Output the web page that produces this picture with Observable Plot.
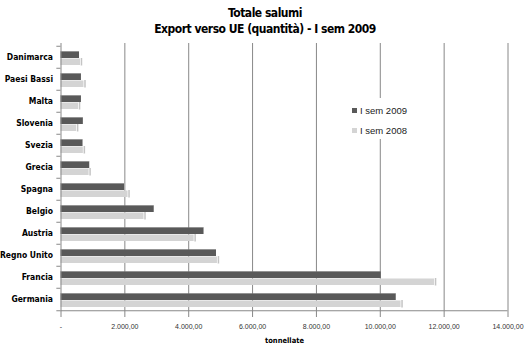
<!DOCTYPE html>
<html><head><meta charset="utf-8">
<script src="https://cdn.jsdelivr.net/npm/d3@7"></script>
<script src="https://cdn.jsdelivr.net/npm/@observablehq/plot@0.6"></script>
<style>
body{margin:0;background:#fff;width:530px;height:352px;overflow:hidden;position:relative;font-family:"DejaVu Sans",sans-serif;font-stretch:condensed;}
#title{height:36px;text-align:center;font-weight:bold;font-size:12px;line-height:16px;padding-top:5px;box-sizing:border-box;color:#000;font-stretch:condensed;letter-spacing:-0.5px;}
#legend{position:absolute;left:340px;top:98px;width:82px;height:41px;background:#fff;font-family:"Liberation Sans",Arial,sans-serif;font-stretch:normal;font-size:9.5px;color:#222;}
#legend div{position:absolute;left:12px;white-space:nowrap;}
#legend span{display:inline-block;width:5px;height:5px;margin-right:3px;vertical-align:middle;position:relative;top:-1px;}
svg text{font-stretch:condensed;}
svg g[aria-label="x-axis tick label"] text{font-stretch:normal;}
</style></head><body>
<div id="title">Totale salumi<br>Export verso UE (quantità) - I sem 2009</div>
<div id="chart"></div>
<div id="legend">
<div style="top:7px"><span style="background:#595959"></span>I sem 2009</div>
<div style="top:27px"><span style="background:#d4d4d4"></span>I sem 2008</div>
</div>
<script>
const countries = ["Danimarca","Paesi Bassi","Malta","Slovenia","Svezia","Grecia","Spagna","Belgio","Austria","Regno Unito","Francia","Germania"];
const sem2009 = [580, 640, 640, 700, 690, 900, 1990, 2920, 4480, 4870, 10030, 10500];
const sem2008 = [610, 720, 550, 490, 700, 880, 2100, 2600, 4170, 4900, 11700, 10650];
const xTicks = [0, 2000, 4000, 6000, 8000, 10000, 12000, 14000];

const d09 = countries.map((c, i) => ({country: c, value: sem2009[i]}));
const d08 = countries.map((c, i) => ({country: c, value: sem2008[i]}));
const fmt = v => v === 0 ? "-" : d3.format(",.2f")(v).replace(/,/g, "#").replace(/\./g, ",").replace(/#/g, ".");

const chart = Plot.plot({
  width: 530,
  height: 316,
  marginTop: 7,
  marginBottom: 39,
  marginLeft: 60.5,
  marginRight: 22.5,
  style: {fontFamily: "'DejaVu Sans',sans-serif", background: "#fff"},
  x: {domain: [0, 14000], ticks: xTicks, tickFormat: fmt, label: null},
  y: {domain: countries, padding: 0, label: null},
  marks: [
    Plot.gridX(xTicks.slice(1), {stroke: "#888", strokeOpacity: 1, strokeWidth: 1}),
    // 2008 bars (light, lower)
    Plot.barX(d08, {x: "value", y: "country", fill: "#d4d4d4", insetTop: 12.5, insetBottom: 3}),
    Plot.tickX(d08, {x: "value", y: "country", stroke: "#c4c4c4", strokeWidth: 1.5, insetTop: 12, insetBottom: 2.5, dx: 1}),
    Plot.barX(d08, {x: "value", y: "country", fill: "none", stroke: "#999", strokeWidth: 0.8, strokeDasharray: "1,1", insetTop: 18.5, insetBottom: 3.5}),
    // 2009 bars (dark, upper)
    Plot.barX(d09, {x: "value", y: "country", fill: "#595959", insetTop: 5.5, insetBottom: 10}),
    Plot.barX(d09, {x: "value", y: "country", fill: "#7a7a7a", insetTop: 5.5, insetBottom: 16}),
    // axes
    Plot.ruleX([0], {stroke: "#888"}),
    Plot.ruleY([countries[countries.length - 1]], {stroke: "#888", dy: 11.25}),
    Plot.ruleY(countries, {y: d => d, dy: -11.25, x1: -130, x2: 0, stroke: "#888"}),
    Plot.ruleY([countries[countries.length - 1]], {dy: 11.25, x1: -130, x2: 0, stroke: "#888"}),
    Plot.axisX({ticks: xTicks, tickFormat: fmt, tickSize: 4, tickPadding: 7, fontSize: 7, fill: "#333", stroke: "#888", fontFamily: "'Liberation Sans',Arial,sans-serif", label: null}),
    Plot.axisY({tickSize: 0, tickPadding: 8, fontSize: 8.5, fontWeight: "bold", fill: "#000", label: null}),
    Plot.text(["tonnellate"], {frameAnchor: "bottom", dy: 29, fontSize: 7.5, fontWeight: "bold", fill: "#000"})
  ]
});
document.getElementById("chart").appendChild(chart);
</script>
</body></html>
